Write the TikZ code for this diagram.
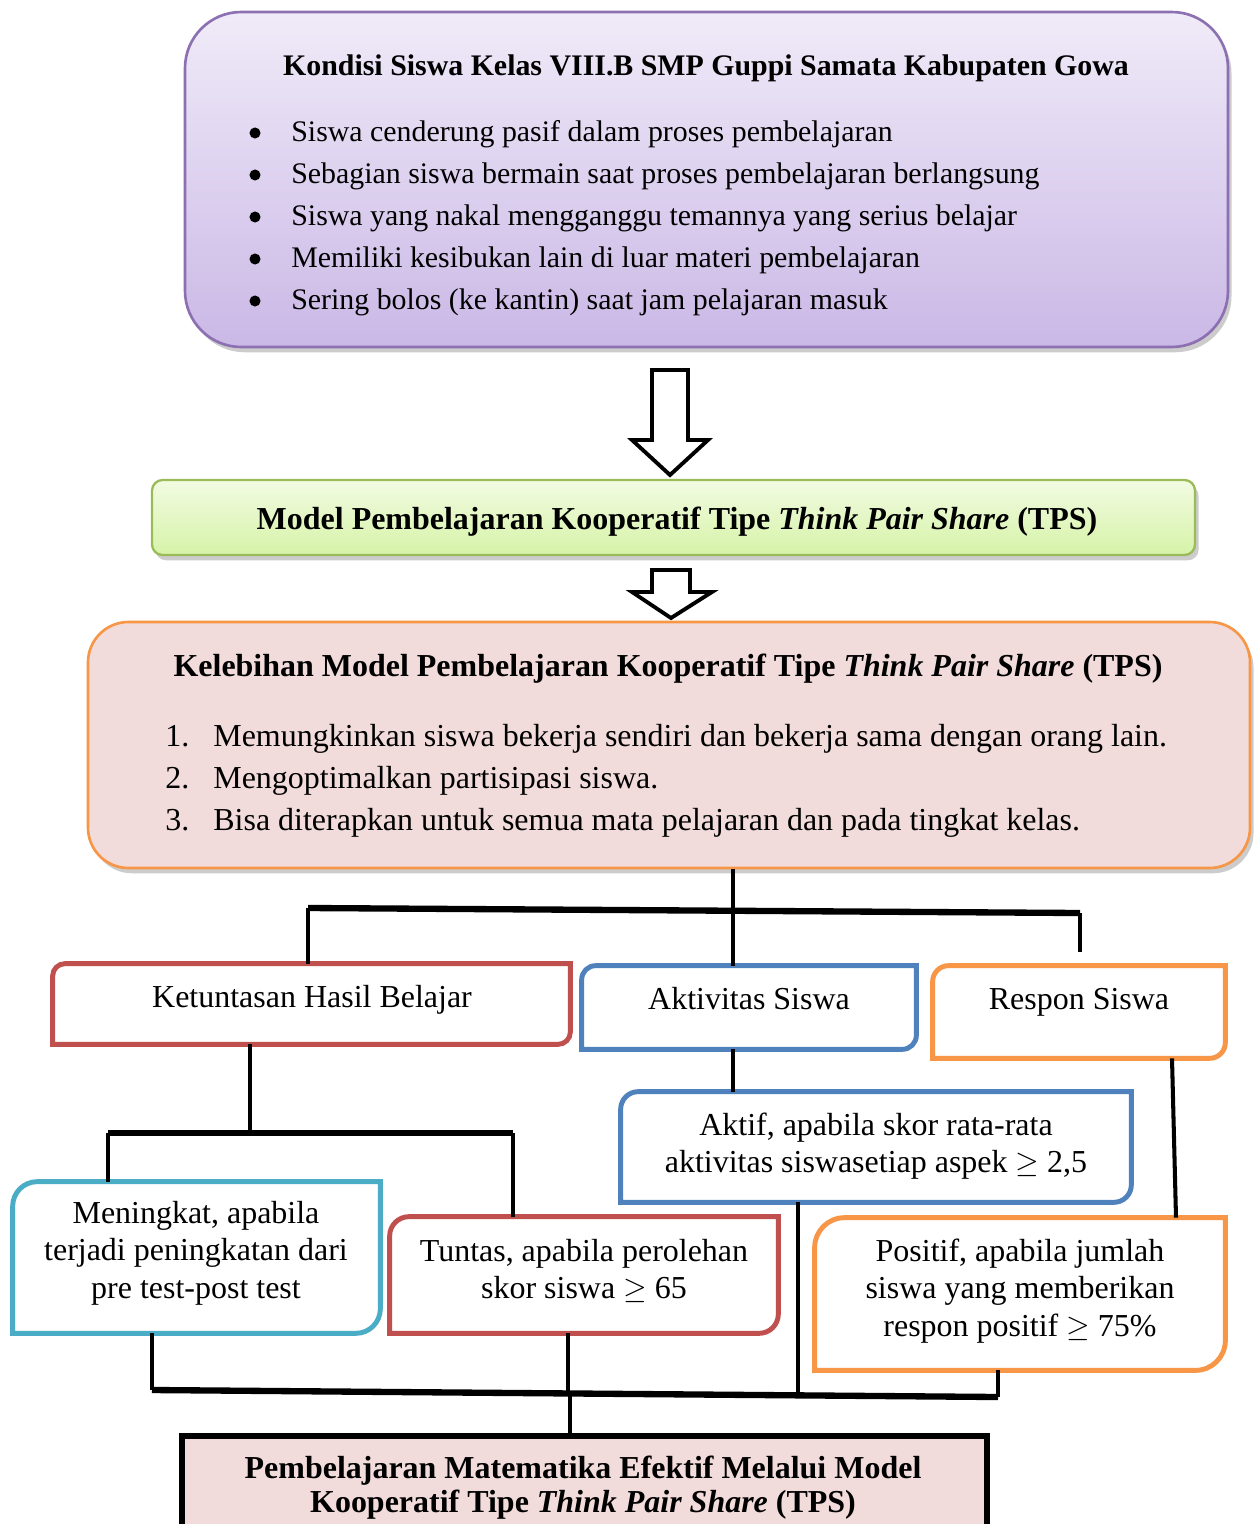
\documentclass[tikz,border=0pt]{standalone}
\usepackage{fontspec}
\setmainfont{Liberation Serif}
\usetikzlibrary{fit}
\usetikzlibrary{shadows}

\definecolor{ungugaris}{RGB}{140,112,178}
\definecolor{unguatas}{RGB}{240,235,248}
\definecolor{ungubawah}{RGB}{202,184,230}
\definecolor{hijaugaris}{RGB}{155,187,89}
\definecolor{hijauatas}{RGB}{242,251,226}
\definecolor{hijaubawah}{RGB}{214,243,168}
\definecolor{merahmuda}{RGB}{242,220,219}
\definecolor{oranye}{RGB}{247,150,70}
\definecolor{merah}{RGB}{192,80,77}
\definecolor{biru}{RGB}{79,129,189}
\definecolor{tosca}{RGB}{75,172,198}

\newcommand{\isi}{\fontsize{17}{23.8}\selectfont}
\newcommand{\isibesar}{\fontsize{18.2}{23.8}\selectfont}
\newcommand{\isirapat}{\fontsize{18.2}{21.3}\selectfont}

\tikzset{
txt/.style={inner sep=0pt, font=\isi, text height=12pt, text depth=3.5pt},
bigtxt/.style={inner sep=0pt, font=\isibesar, text height=12.8pt, text depth=3.7pt},
multitxt/.style={inner sep=0pt, font=\isirapat, align=center},
titik/.style={shape=circle, fill=black, inner sep=0pt, minimum size=6.3pt},
bar/.style={line width=2.3pt, black},
thickbar/.style={line width=3.6pt, black},
blockarrow/.style={draw=black, line width=2.2pt, fill=white, line join=miter},
bayang/.style={drop shadow={shadow xshift=2pt, shadow yshift=-3pt, fill=black!40}}}

% kotak dengan sudut kiri atas dan kanan bawah membulat
\newcommand{\diagframe}[3]{%
  \draw[line width=2.8pt, draw=#2, fill=white]
    (#1.south west) [rounded corners=#3] -- (#1.north west) [sharp corners] -- (#1.north east)
    [rounded corners=#3] -- (#1.south east) [sharp corners] -- cycle;}

\begin{document}
\begin{tikzpicture}[x=0.02cm, y=-0.02cm]
\useasboundingbox (0,0) rectangle (1259,1524);
\clip (0,0) rectangle (1259,1524);

% kondisi siswa
\node[fit={(185,12) (1228,347)}, inner sep=0pt, rounded corners=32pt, draw=ungugaris, line width=1.5pt,
      top color=unguatas, bottom color=ungubawah, bayang] (kondisi) {};
\node[txt, font=\isi\bfseries] (kondisi-judul) at (706,68) {Kondisi Siswa Kelas VIII.B SMP Guppi Samata Kabupaten Gowa};
\node[titik] (titik1) at (255,133) {};
\node[titik] (titik2) at (255,175) {};
\node[titik] (titik3) at (255,217) {};
\node[titik] (titik4) at (255,259) {};
\node[titik] (titik5) at (255,301) {};
\node[txt, anchor=west] (kondisi1) at (291,134) {Siswa cenderung pasif dalam proses pembelajaran};
\node[txt, anchor=west] (kondisi2) at (291,176) {Sebagian siswa bermain saat proses pembelajaran berlangsung};
\node[txt, anchor=west] (kondisi3) at (291,218) {Siswa yang nakal mengganggu temannya yang serius belajar};
\node[txt, anchor=west] (kondisi4) at (291,260) {Memiliki kesibukan lain di luar materi pembelajaran};
\node[txt, anchor=west] (kondisi5) at (291,302) {Sering bolos (ke kantin) saat jam pelajaran masuk};

\draw[blockarrow] (652,370) -- (688,370) -- (688,440) -- (708,440) -- (670,475) -- (632,440) -- (652,440) -- cycle;

% model TPS
\node[fit={(152,480) (1195,555)}, inner sep=0pt, rounded corners=6pt, draw=hijaugaris, line width=1.3pt,
      top color=hijauatas, bottom color=hijaubawah, bayang] (model) {};
\node[bigtxt, font=\isibesar\bfseries] (model-teks) at (677,522) {Model Pembelajaran Kooperatif Tipe \textit{Think Pair Share} (TPS)};

\draw[blockarrow] (652,570) -- (690,570) -- (690,592) -- (712,592) -- (671,618) -- (632,592) -- (652,592) -- cycle;

% kelebihan
\node[fit={(88,622) (1250,868)}, inner sep=0pt, rounded corners=23pt, draw=oranye, line width=1.5pt,
      fill=merahmuda, bayang] (kelebihan) {};
\node[bigtxt, font=\isibesar\bfseries] (kelebihan-judul) at (668,668) {Kelebihan Model Pembelajaran Kooperatif Tipe \textit{Think Pair Share} (TPS)};
\node[bigtxt, anchor=west] (nomor1) at (165,738) {1.};
\node[bigtxt, anchor=west] (nomor2) at (165,780) {2.};
\node[bigtxt, anchor=west] (nomor3) at (165,822) {3.};
\node[bigtxt, anchor=west] (kelebihan1) at (213,738) {Memungkinkan siswa bekerja sendiri dan bekerja sama dengan orang lain.};
\node[bigtxt, anchor=west] (kelebihan2) at (213,780) {Mengoptimalkan partisipasi siswa.};
\node[bigtxt, anchor=west] (kelebihan3) at (213,822) {Bisa diterapkan untuk semua mata pelajaran dan pada tingkat kelas.};

% indikator
\node[fit={(53,964) (570,1044)}, inner sep=0pt] (ketuntasan) {};
\node[fit={(582,966) (916,1049)}, inner sep=0pt] (aktivitas) {};
\node[fit={(933,966) (1225,1058)}, inner sep=0pt] (respon) {};
\node[fit={(13,1182) (380,1333)}, inner sep=0pt] (meningkat) {};
\node[fit={(390,1217) (778,1333)}, inner sep=0pt] (tuntas) {};
\node[fit={(621,1092) (1131,1202)}, inner sep=0pt] (aktif) {};
\node[fit={(815,1218) (1225,1370)}, inner sep=0pt] (positif) {};
\diagframe{ketuntasan}{merah}{7pt}
\diagframe{aktivitas}{biru}{8pt}
\diagframe{respon}{oranye}{9pt}
\diagframe{meningkat}{tosca}{14pt}
\diagframe{tuntas}{merah}{11pt}
\diagframe{aktif}{biru}{10pt}
\diagframe{positif}{oranye}{17pt}

\node[bigtxt] (ketuntasan-teks) at (312,999) {Ketuntasan Hasil Belajar};
\node[bigtxt] (aktivitas-teks) at (749,1001) {Aktivitas Siswa};
\node[bigtxt] (respon-teks) at (1079,1001) {Respon Siswa};
\node[multitxt] (meningkat-teks) at (196,1253) {Meningkat, apabila\\terjadi peningkatan dari\\pre test-post test};
\node[multitxt] (tuntas-teks) at (584,1271) {Tuntas, apabila perolehan\\skor siswa $\geq$ 65};
\node[multitxt] (aktif-teks) at (876,1146) {Aktif, apabila skor rata-rata\\aktivitas siswasetiap aspek $\geq$ 2,5};
\node[multitxt] (positif-teks) at (1020,1291) {Positif, apabila jumlah\\siswa yang memberikan\\respon positif $\geq$ 75\%};

% pembelajaran efektif
\node[fit={(182,1436) (987,1580)}, inner sep=0pt, draw=black, line width=3.8pt, fill=merahmuda] (efektif) {};
\node[multitxt, font=\fontsize{18.2}{19.3}\selectfont\bfseries] (efektif-teks) at (583,1488)
  {Pembelajaran Matematika Efektif Melalui Model\\Kooperatif Tipe \textit{Think Pair Share} (TPS)};

% garis penghubung
\coordinate (k1) at (308,908);
\coordinate (k2) at (733,910);
\coordinate (k3) at (1080,913);
\coordinate (k3e) at (1080,952);
\draw[bar] (k2 |- kelebihan.south) -- (k2);
\draw[thickbar] (k1) -- (k3);
\draw[bar] (k1) -- (k1 |- ketuntasan.north);
\draw[bar] (k2) -- (k2 |- aktivitas.north);
\draw[bar] (k3) -- (k3e);

\coordinate (t1) at (250,1131);
\coordinate (m1) at (108,1133);
\coordinate (m2) at (513,1133);
\draw[bar] (t1 |- ketuntasan.south) -- (t1);
\draw[thickbar] (m1) -- (m2);
\draw[bar] (m1) -- (m1 |- meningkat.north);
\draw[bar] (m2) -- (m2 |- tuntas.north);

\coordinate (a1) at (733,1070);
\draw[bar] (a1 |- aktivitas.south) -- (a1 |- aktif.north);
\coordinate (r1) at (1172,1100);
\coordinate (r2) at (1176,1100);
\draw[bar] (r1 |- respon.south) -- (r2 |- positif.north);

\coordinate (b1) at (152,1390);
\coordinate (b2) at (998,1397);
\coordinate (b3) at (568,1394);
\coordinate (b4) at (798,1395);
\coordinate (b5) at (570,1395);
\draw[bar] (b1 |- meningkat.south) -- (b1);
\draw[bar] (b3 |- tuntas.south) -- (b3);
\draw[bar] (b4 |- aktif.south) -- (b4);
\draw[bar] (b2 |- positif.south) -- (b2);
\draw[thickbar] (b1) -- (b2);
\draw[bar] (b5) -- (b5 |- efektif.north);
\end{tikzpicture}
\end{document}
